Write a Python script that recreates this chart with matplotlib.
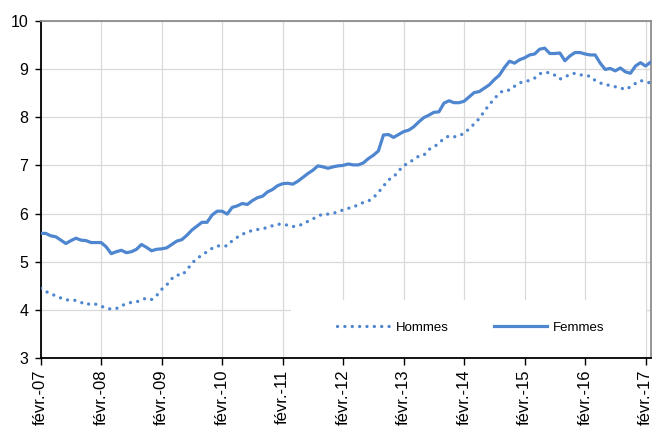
import matplotlib
matplotlib.use("Agg")
import matplotlib.pyplot as plt
from matplotlib.patches import Rectangle

# monthly values, févr. 2007 -> mars 2017
hommes = [4.45, 4.39, 4.33, 4.30, 4.25, 4.21, 4.21, 4.20, 4.16, 4.11,
          4.14, 4.12, 4.08, 4.04, 4.02, 4.03, 4.09, 4.13, 4.16, 4.17,
          4.21, 4.25, 4.22, 4.30, 4.43, 4.52, 4.65, 4.73, 4.72, 4.83,
          4.97, 5.07, 5.14, 5.21, 5.28, 5.33, 5.33, 5.33, 5.44, 5.51,
          5.57, 5.62, 5.65, 5.67, 5.69, 5.71, 5.75, 5.78, 5.78, 5.76,
          5.73, 5.75, 5.78, 5.84, 5.89, 5.95, 5.99, 5.99, 6.01, 6.03,
          6.08, 6.11, 6.13, 6.19, 6.23, 6.26, 6.33, 6.44, 6.57, 6.70,
          6.76, 6.88, 7.00, 7.04, 7.13, 7.19, 7.21, 7.33, 7.38, 7.46,
          7.56, 7.61, 7.59, 7.62, 7.66, 7.76, 7.86, 7.97, 8.12, 8.26,
          8.38, 8.50, 8.56, 8.56, 8.64, 8.71, 8.74, 8.76, 8.81, 8.90,
          8.93, 8.92, 8.87, 8.79, 8.83, 8.89, 8.91, 8.88, 8.86, 8.85,
          8.76, 8.71, 8.67, 8.66, 8.63, 8.61, 8.57, 8.63, 8.70, 8.76,
          8.73, 8.71]

femmes = [5.59, 5.59, 5.54, 5.52, 5.45, 5.38, 5.44, 5.49, 5.45, 5.44,
          5.40, 5.40, 5.40, 5.31, 5.17, 5.21, 5.24, 5.19, 5.21, 5.26,
          5.36, 5.30, 5.23, 5.26, 5.27, 5.29, 5.36, 5.43, 5.46, 5.55,
          5.66, 5.74, 5.82, 5.82, 5.97, 6.05, 6.05, 5.99, 6.13, 6.16,
          6.21, 6.19, 6.27, 6.33, 6.36, 6.45, 6.50, 6.58, 6.62, 6.63,
          6.61, 6.67, 6.75, 6.83, 6.90, 6.99, 6.97, 6.94, 6.97, 6.99,
          7.00, 7.03, 7.01, 7.01, 7.05, 7.14, 7.21, 7.30, 7.63, 7.64,
          7.58, 7.64, 7.70, 7.73, 7.80, 7.90, 7.99, 8.04, 8.10, 8.11,
          8.29, 8.34, 8.30, 8.30, 8.33, 8.42, 8.51, 8.53, 8.60, 8.67,
          8.78, 8.87, 9.03, 9.16, 9.12, 9.19, 9.23, 9.29, 9.31, 9.41,
          9.43, 9.32, 9.32, 9.33, 9.17, 9.27, 9.34, 9.34, 9.31, 9.29,
          9.29, 9.12, 8.99, 9.01, 8.96, 9.02, 8.94, 8.91, 9.06, 9.13,
          9.06, 9.14]

tick_labels = ["févr.-07", "févr.-08", "févr.-09", "févr.-10", "févr.-11",
               "févr.-12", "févr.-13", "févr.-14", "févr.-15", "févr.-16",
               "févr.-17"]

blue = "#4f86d0"

plt.rcParams["font.family"] = ["Liberation Sans", "DejaVu Sans"]

fig = plt.figure(figsize=(6.54, 4.26), dpi=100)
ax = fig.add_axes([0.0622, 0.1589, 0.9326, 0.7925])

x = list(range(len(femmes)))
ax.plot(x, hommes, color=blue, lw=2.4, linestyle=(0, (0.01, 2.2)),
        dash_capstyle="round", label="Hommes", zorder=3)
ax.plot(x, femmes, color=blue, lw=2.3, solid_joinstyle="round",
        label="Femmes", zorder=3)

ax.set_xlim(0, len(femmes) - 1)
ax.set_ylim(3, 10)
ax.set_xticks(x[::12])
ax.set_xticklabels(tick_labels, rotation=90, fontsize=12)
ax.set_yticks(range(3, 11))
ax.tick_params(axis="y", labelsize=11.5, length=4, width=1, pad=5)
ax.tick_params(axis="x", length=5, width=1, pad=3, color="black")

ax.set_axisbelow(True)
ax.grid(True, color="#d9d9d9", lw=0.9)

for side in ["left", "bottom"]:
    ax.spines[side].set_color("black")
    ax.spines[side].set_linewidth(1.3)
for side in ["top", "right"]:
    ax.spines[side].set_color("#8c8c8c")
    ax.spines[side].set_linewidth(1.3)

# white box behind the legend, hiding the grid
ax.add_patch(Rectangle((0.41, 0.0), 0.582, 0.173, transform=ax.transAxes,
                       facecolor="white", edgecolor="none", zorder=1))
ax.legend(loc="center", bbox_to_anchor=(0.705, 0.09), ncol=2, frameon=False,
          fontsize=9.5, handlelength=4.0, handletextpad=0.5,
          columnspacing=3.4)

fig.savefig("out.png", dpi=100)
